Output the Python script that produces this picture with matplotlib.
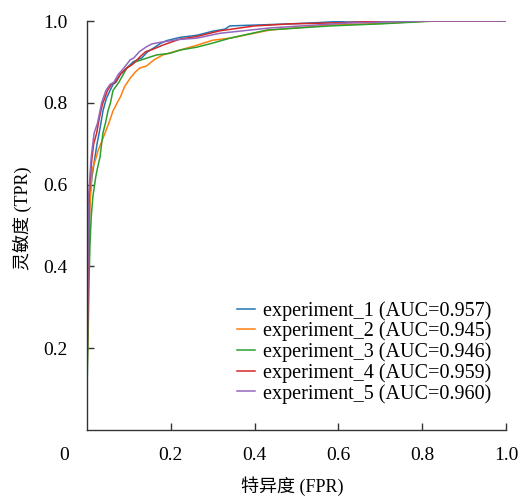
import matplotlib
matplotlib.use("Agg")
import matplotlib.pyplot as plt

# ---- data ----
labels = ["experiment_1", "experiment_2", "experiment_3", "experiment_4", "experiment_5"]
aucs = [0.957, 0.945, 0.946, 0.959, 0.960]

fpr1 = [0, 0, 0.002, 0.004, 0.006, 0.007, 0.012, 0.019, 0.024, 0.029, 0.034, 0.038, 0.046,
        0.055, 0.062, 0.069, 0.08, 0.095, 0.11, 0.131, 0.145, 0.159, 0.175, 0.19, 0.222,
        0.262, 0.30, 0.329, 0.341, 0.40, 0.485, 0.55, 0.62, 1.0]
tpr1 = [0, 0.15, 0.30, 0.42, 0.52, 0.57, 0.62, 0.667, 0.70, 0.726, 0.755, 0.78, 0.81,
        0.83, 0.845, 0.85, 0.87, 0.885, 0.90, 0.91, 0.925, 0.934, 0.945, 0.952, 0.960,
        0.965, 0.975, 0.980, 0.988, 0.990, 0.993, 0.996, 1.0, 1.0]

fpr2 = [0, 0, 0.002, 0.004, 0.007, 0.010, 0.012, 0.020, 0.027, 0.035, 0.043, 0.052, 0.062,
        0.072, 0.080, 0.090, 0.103, 0.115, 0.126, 0.142, 0.160, 0.181, 0.222, 0.26, 0.30,
        0.341, 0.437, 0.58, 0.70, 0.82, 1.0]
tpr2 = [0, 0.10, 0.30, 0.45, 0.55, 0.60, 0.636, 0.66, 0.685, 0.705, 0.726, 0.75, 0.78,
        0.80, 0.815, 0.84, 0.86, 0.875, 0.885, 0.89, 0.905, 0.917, 0.929, 0.94, 0.953,
        0.958, 0.978, 0.990, 0.994, 1.0, 1.0]

fpr3 = [0, 0, 0.003, 0.005, 0.007, 0.010, 0.014, 0.021, 0.026, 0.031, 0.038, 0.044, 0.050,
        0.056, 0.062, 0.076, 0.095, 0.115, 0.142, 0.166, 0.198, 0.222, 0.262, 0.30, 0.341,
        0.43, 0.58, 0.70, 0.83, 1.0]
tpr3 = [0, 0.10, 0.25, 0.37, 0.45, 0.52, 0.57, 0.62, 0.645, 0.667, 0.726, 0.75, 0.78,
        0.80, 0.83, 0.85, 0.885, 0.90, 0.909, 0.917, 0.921, 0.929, 0.936, 0.946, 0.958,
        0.978, 0.988, 0.993, 1.0, 1.0]

fpr4 = [0, 0, 0.002, 0.004, 0.005, 0.008, 0.012, 0.016, 0.023, 0.028, 0.033, 0.038, 0.049,
        0.058, 0.067, 0.080, 0.095, 0.110, 0.127, 0.140, 0.155, 0.181, 0.222, 0.262, 0.317,
        0.40, 0.485, 0.62, 0.70, 1.0]
tpr4 = [0, 0.12, 0.30, 0.45, 0.57, 0.62, 0.667, 0.70, 0.726, 0.755, 0.78, 0.80, 0.83,
        0.845, 0.85, 0.87, 0.885, 0.895, 0.913, 0.925, 0.930, 0.941, 0.956, 0.962, 0.976,
        0.988, 0.993, 0.996, 1.0, 1.0]

fpr5 = [0, 0, 0.002, 0.003, 0.004, 0.007, 0.010, 0.017, 0.025, 0.031, 0.035, 0.045, 0.055,
        0.064, 0.075, 0.088, 0.103, 0.112, 0.125, 0.142, 0.155, 0.181, 0.222, 0.262, 0.317,
        0.437, 0.62, 0.80, 1.0]
tpr5 = [0, 0.15, 0.35, 0.50, 0.57, 0.62, 0.667, 0.726, 0.75, 0.78, 0.80, 0.83, 0.845,
        0.85, 0.87, 0.885, 0.905, 0.91, 0.925, 0.937, 0.944, 0.949, 0.955, 0.958, 0.970,
        0.983, 0.995, 1.0, 1.0]

fprs = [fpr1, fpr2, fpr3, fpr4, fpr5]
tprs = [tpr1, tpr2, tpr3, tpr4, tpr5]
colors = ["#1f77b4", "#ff7f0e", "#2ca02c", "#d62728", "#9467bd"]
xticks = [0.2, 0.4, 0.6, 0.8, 1.0]
yticks = [0.2, 0.4, 0.6, 0.8, 1.0]

# ---- figure ----
W, H = 520, 498
fig = plt.figure(figsize=(W / 100, H / 100), dpi=100)
ax = fig.add_axes([87 / W, (H - 430) / H, (506 - 87) / W, (430 - 21) / H])

serif = ["Liberation Serif", "Noto Sans CJK SC", "DejaVu Sans"]
fs = 14

for f, t, c, lab, a in zip(fprs, tprs, colors, labels, aucs):
    ax.plot(f, t, color=c, lw=1.1, label=f"{lab} (AUC={a:.3f})")

ax.set_xlim(0, 1)
ax.set_ylim(0, 1)
ax.set_xticks(xticks)
ax.set_yticks(yticks)
ax.set_xticklabels([f"{v:.1f}" for v in xticks], family=serif, fontsize=fs)
ax.set_yticklabels([f"{v:.1f}" for v in yticks], family=serif, fontsize=fs)
ax.tick_params(direction="in", length=5, width=1, color="#333333")
ax.tick_params(axis="y", pad=14)
ax.tick_params(axis="x", pad=12)
for s in ["top", "right"]:
    ax.spines[s].set_visible(False)
for s in ["left", "bottom"]:
    ax.spines[s].set_color("#333333")
    ax.spines[s].set_linewidth(1.0)

fig.text(64.5 / W, 1 - 455 / H, "0", family=serif, fontsize=fs, ha="center", va="center")
fig.text(292 / W, 1 - 486 / H, "特异度 (FPR)", family=serif, fontsize=13, ha="center", va="center")
fig.text(22 / W, 1 - 218 / H, "灵敏度 (TPR)", family=serif, fontsize=13, ha="center", va="center",
         rotation=90)

leg = ax.legend(loc="lower right", bbox_to_anchor=(0.984, 0.045), frameon=False,
                prop={"family": serif, "size": 14.5}, handlelength=0.9, handletextpad=0.4,
                labelspacing=0.05, borderaxespad=0.0)

fig.savefig("out.png", dpi=100)
